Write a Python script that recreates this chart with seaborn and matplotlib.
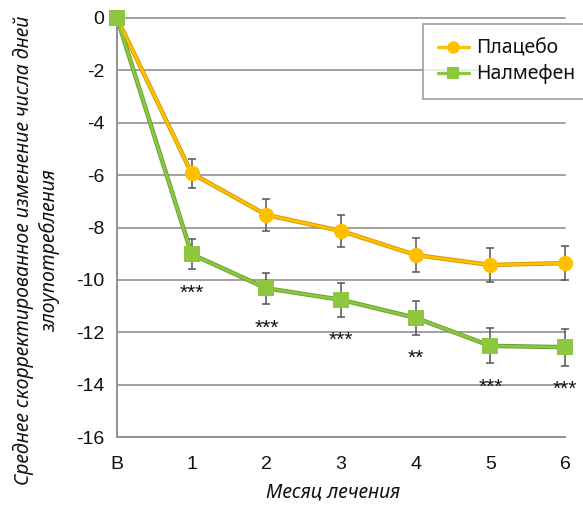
import numpy as np
import pandas as pd
import matplotlib
matplotlib.use("Agg")
import matplotlib.pyplot as plt
import seaborn as sns

# Months of treatment (В = baseline)
months = ["В", "1", "2", "3", "4", "5", "6"]
placebo = [0.0, -5.93, -7.52, -8.13, -9.05, -9.43, -9.36]
placebo_err = [0.0, 0.55, 0.60, 0.62, 0.65, 0.65, 0.65]
nalmefene = [0.0, -9.02, -10.32, -10.76, -11.45, -12.52, -12.57]
nalmefene_err = [0.0, 0.58, 0.60, 0.65, 0.65, 0.67, 0.70]
significance = ["", "***", "***", "***", "**", "***", "***"]
y_ticks = [0, -2, -4, -6, -8, -10, -12, -14, -16]

series_names = ["Плацебо", "Налмефен"]
colors = {"Плацебо": "#FFC000", "Налмефен": "#8DC63F"}
edges = {"Плацебо": "#D09A00", "Налмефен": "#64A030"}
markers = {"Плацебо": "o", "Налмефен": "s"}

sns.set_theme(style="white")
plt.rcParams["font.family"] = ["Liberation Sans", "DejaVu Sans"]

x = np.arange(len(months))
df = pd.DataFrame({
    "month": np.concatenate([x, x]),
    "value": placebo + nalmefene,
    "group": [series_names[0]] * len(x) + [series_names[1]] * len(x),
})

fig = plt.figure(figsize=(5.83, 5.07), dpi=100)
ax = fig.add_axes([117 / 583, 1 - 437 / 507, (565 - 117) / 583, (437 - 18) / 507])

# gridlines
for v in y_ticks[:-1]:
    ax.axhline(v, color="#A0A0A0", lw=1.4, zorder=0)

# error bars
for vals, errs in [(placebo, placebo_err), (nalmefene, nalmefene_err)]:
    ax.errorbar(x[1:], vals[1:], yerr=errs[1:], fmt="none", ecolor="#555555",
                elinewidth=1.1, capsize=3, capthick=1.1, zorder=2)

# darker rim under each line, then the coloured line with markers
sns.lineplot(data=df, x="month", y="value", hue="group",
             hue_order=series_names, palette=edges,
             lw=3.2, ax=ax, zorder=2.5, legend=False)
sns.lineplot(data=df, x="month", y="value", hue="group", style="group",
             hue_order=series_names, style_order=series_names,
             palette=colors, markers=markers, dashes=False,
             lw=1.9, markersize=11, markeredgewidth=0, ax=ax, zorder=3,
             legend=False)

# significance markers under the nalmefene error bars
for xi, v, e, s in zip(x, nalmefene, nalmefene_err, significance):
    if s:
        ax.text(xi, v - e - 0.55, s, ha="center", va="top",
                fontsize=15, color="#111111", zorder=4)

ax.set_xlim(0, 6)
ax.set_ylim(-16, 0)
ax.set_xticks(x)
ax.set_xticklabels(months)
ax.set_yticks(y_ticks)
ax.set_yticklabels([str(v) for v in y_ticks])
ax.tick_params(axis="both", which="both", length=6, width=1.2, color="#888888",
               labelsize=14, labelcolor="#111111", direction="out")
ax.tick_params(axis="x", pad=8)
ax.tick_params(axis="y", pad=3)
for sp in ["top", "right"]:
    ax.spines[sp].set_visible(False)
for sp in ["left", "bottom"]:
    ax.spines[sp].set_color("#909090")
    ax.spines[sp].set_linewidth(1.4)
for child in ax.get_children():
    if hasattr(child, "set_clip_on"):
        child.set_clip_on(False)

label_font = dict(family=["Noto Sans", "DejaVu Sans"], style="italic",
                  fontsize=14, color="#111111")
ax.set_xlabel("Месяц лечения", **label_font)
ax.set_ylabel("Среднее скорректированное изменение числа дней\nзлоупотребления",
              linespacing=1.3, **label_font)
ax.xaxis.set_label_coords((333 - 117) / 448, (437 - 482) / 419)
ax.yaxis.set_label_coords((60 - 117) / 448, (437 - 250) / 419)

# legend
handles = [
    plt.Line2D([], [], color=colors[n], lw=2.4, marker=markers[n], markersize=9,
               markeredgewidth=0)
    for n in series_names
]
leg = fig.legend(handles, series_names, loc="upper left",
                 bbox_to_anchor=(423 / 583, 0, 0.4, 1 - 24 / 507),
                 mode="expand", frameon=True, fancybox=False,
                 prop=dict(family=["Noto Sans", "DejaVu Sans"], size=14),
                 handlelength=1.6, handletextpad=0.4, labelspacing=0.3,
                 borderpad=0.75, borderaxespad=0)
leg.get_frame().set_edgecolor("#999999")
leg.get_frame().set_linewidth(1.4)
for t in leg.get_texts():
    t.set_color("#111111")

fig.savefig("out.png", dpi=100)
